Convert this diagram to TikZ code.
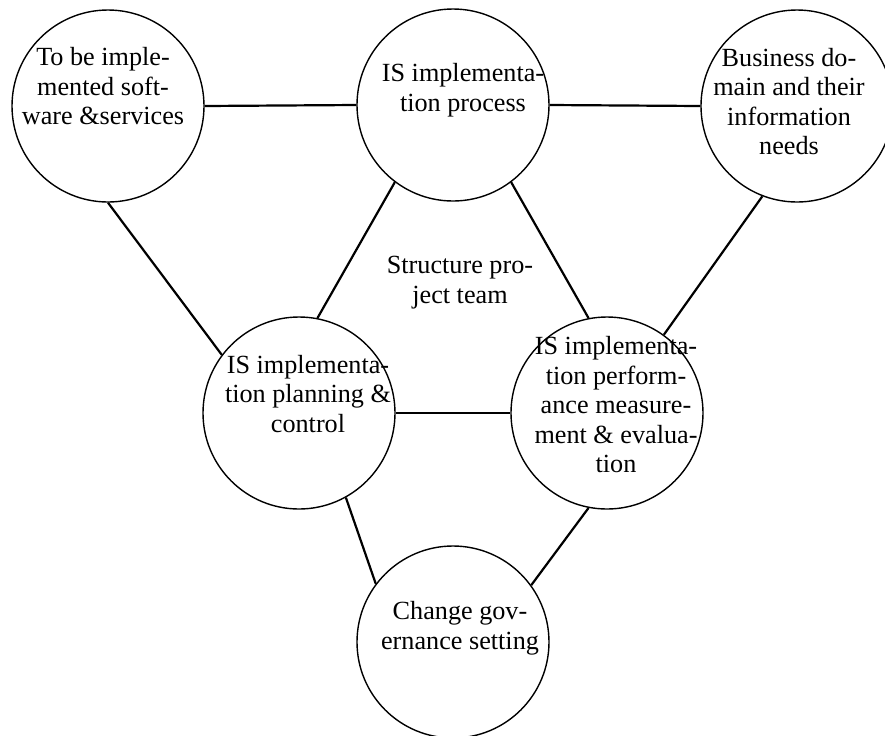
\documentclass[tikz,border=0pt]{standalone}
\usepackage{fontspec}
\setmainfont{Liberation Serif}
\begin{document}
\begin{tikzpicture}[x=0.5pt,y=-0.5pt,
  bubble/.style={circle,draw,line width=0.7pt,minimum size=96pt,inner sep=0pt},
  lbl/.style={align=center,inner sep=0pt,font=\fontsize{13.1pt}{14.75pt}\selectfont},
  link/.style={line width=1.1pt}]
\useasboundingbox (0,0) rectangle (885,735);
\node[bubble] (tl) at (108,106) {};
\node[bubble] (tc) at (453,105) {};
\node[bubble] (tr) at (797,106) {};
\node[bubble] (ml) at (299,413) {};
\node[bubble] (mr) at (607,413) {};
\node[bubble] (b)  at (453,642) {};
\node[lbl] (tlt) at (103,86.5) {To be imple-\\mented soft-\\ware \&services};
\node[lbl] (tct) at (463,90) {IS implementa-\\tion process};
\node[lbl] (trt) at (789,101.5) {Business do-\\main and their\\information\\needs};
\node[lbl] (mlt) at (308,394) {IS implementa-\\tion planning \&\\control};
\node[lbl] (mrt) at (616,405) {IS implementa-\\tion perform-\\ance measure-\\ment \& evalua-\\tion};
\node[lbl] (bt) at (460,628) {Change gov-\\ernance setting};
\node[lbl] (st) at (460,282.5) {Structure pro-\\ject team};
\draw[link] (tl.east) -- (tc.west);
\draw[link] (tc.east) -- (tr.west);
\draw[link] (tl.270) -- (ml.143);
\draw[link] (tc.233) -- (ml.79);
\draw[link] (tc.307) -- (mr.101);
\draw[link] (tr.249) -- (mr.54);
\draw[link] (ml.east) -- (mr.west);
\draw[link] (ml.299) -- (b.143.5);
\draw[link] (mr.259) -- (b.36.5);
\end{tikzpicture}
\end{document}
